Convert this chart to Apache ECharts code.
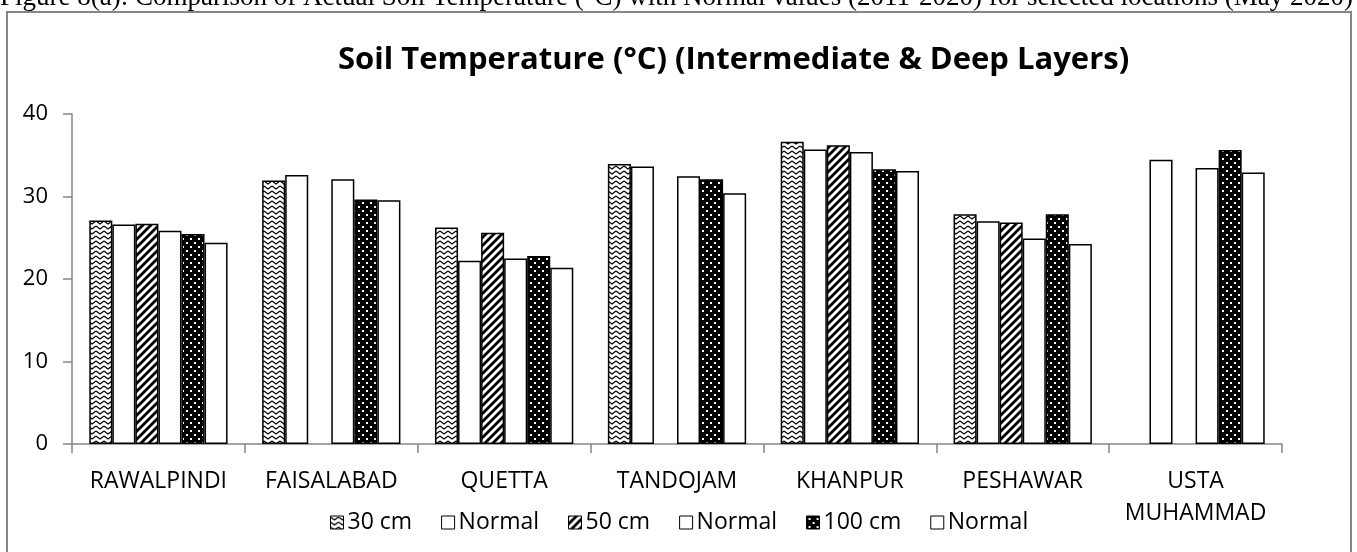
<!DOCTYPE html>
<html><head><meta charset="utf-8">
<script src="https://cdn.jsdelivr.net/npm/echarts@6/dist/echarts.min.js"></script>
<style>html,body{margin:0;padding:0;background:#fff}#c{width:1357px;height:552px}</style>
</head><body><div id="c"></div>
<script>
const categories = ['RAWALPINDI','FAISALABAD','QUETTA','TANDOJAM','KHANPUR','PESHAWAR','USTA\nMUHAMMAD'];
const seriesNames = ['30 cm','Normal','50 cm','Normal ','100 cm','Normal  '];
const soil30 = [27.1, 31.95, 26.25, 33.95, 36.65, 27.85, null];
const normal30 = [26.6, 32.6, 22.2, 33.65, 35.7, 27.0, 34.45];
const soil50 = [26.7, null, 25.6, null, 36.2, 26.85, null];
const normal50 = [25.85, 32.1, 22.5, 32.45, 35.4, 24.9, 33.45];
const soil100 = [25.45, 29.65, 22.8, 32.1, 33.3, 27.85, 35.65];
const normal100 = [24.4, 29.55, 21.35, 30.4, 33.1, 24.25, 32.9];
const yTicks = [0, 10, 20, 30, 40];

function tile(w, h, draw) {
  const c = document.createElement('canvas');
  c.width = w; c.height = h;
  const ctx = c.getContext('2d');
  draw(ctx);
  return c;
}
const zigzag = tile(8, 5, ctx => {
  ctx.fillStyle = '#fff'; ctx.fillRect(0, 0, 8, 5);
  ctx.strokeStyle = '#000'; ctx.lineWidth = 1.2;
  ctx.beginPath(); ctx.moveTo(0, 1); ctx.lineTo(4, 4); ctx.lineTo(8, 1); ctx.stroke();
});
const stripes = tile(8, 8, ctx => {
  ctx.fillStyle = '#fff'; ctx.fillRect(0, 0, 8, 8);
  ctx.strokeStyle = '#000'; ctx.lineWidth = 2.8;
  ctx.beginPath();
  ctx.moveTo(-2, 10); ctx.lineTo(10, -2);
  ctx.moveTo(-2, 2); ctx.lineTo(2, -2);
  ctx.moveTo(6, 10); ctx.lineTo(10, 6);
  ctx.stroke();
});
const dots = tile(8, 8, ctx => {
  ctx.fillStyle = '#000'; ctx.fillRect(0, 0, 8, 8);
  ctx.fillStyle = '#fff';
  ctx.fillRect(2, 2, 2, 2);
  ctx.fillRect(6, 6, 2, 2);
});
const fills = [
  {image: zigzag, repeat: 'repeat'}, '#ffffff',
  {image: stripes, repeat: 'repeat'}, '#ffffff',
  {image: dots, repeat: 'repeat'}, '#ffffff'
];
const datasets = [soil30, normal30, soil50, normal50, soil100, normal100];

const chart = echarts.init(document.getElementById('c'), null, {renderer: 'canvas'});
const font = '"Open Sans", "Liberation Sans", sans-serif';
chart.setOption({
  animation: false,
  backgroundColor: '#fff',
  textStyle: {fontFamily: font},
  title: {
    text: 'Soil Temperature (°C) (Intermediate & Deep Layers)',
    left: 333, top: 40,
    textStyle: {fontFamily: font, fontSize: 31, fontWeight: 'bold', color: '#000'}
  },
  graphic: [
    {type: 'rect', shape: {x: 7, y: 12, width: 1344, height: 560},
     style: {fill: null, stroke: '#868686', lineWidth: 2}, silent: true},
    {type: 'text', left: 0, top: -16,
     style: {text: 'Figure 8(a): Comparison of Actual Soil Temperature (°C) with Normal values (2011-2020) for selected locations (May 2020)',
             font: '27px "Liberation Serif", serif', fill: '#000'}}
  ],
  legend: {
    left: 325, top: 506,
    itemWidth: 13, itemHeight: 13, itemGap: 29,
    icon: 'rect',
    data: seriesNames,
    formatter: n => n.trim(),
    textStyle: {fontFamily: font, fontSize: 23, color: '#000', padding: [0, 0, 0, -1]},
    itemStyle: {borderColor: '#000', borderWidth: 1}
  },
  grid: {left: 72, right: 75, top: 114, bottom: 108, containLabel: false},
  xAxis: {
    type: 'category', data: categories,
    axisLine: {lineStyle: {color: '#868686', width: 1.5}},
    axisTick: {show: true, length: 9, lineStyle: {color: '#868686', width: 1.5}},
    axisLabel: {color: '#000', fontSize: 23, fontFamily: font, margin: 21, lineHeight: 32, interval: 0}
  },
  yAxis: {
    type: 'value', min: yTicks[0], max: yTicks[yTicks.length - 1], interval: 10,
    axisLine: {show: true, lineStyle: {color: '#868686', width: 1.5}},
    axisTick: {show: true, length: 9, lineStyle: {color: '#868686', width: 1.5}},
    splitLine: {show: false},
    axisLabel: {color: '#000', fontSize: 22, fontFamily: font, margin: 24}
  },
  series: datasets.map((d, i) => ({
    name: seriesNames[i], type: 'bar', data: d,
    barGap: '0%', barCategoryGap: '20%',
    itemStyle: {color: fills[i], borderColor: '#000', borderWidth: 1.5}
  }))
});
</script>
</body></html>
